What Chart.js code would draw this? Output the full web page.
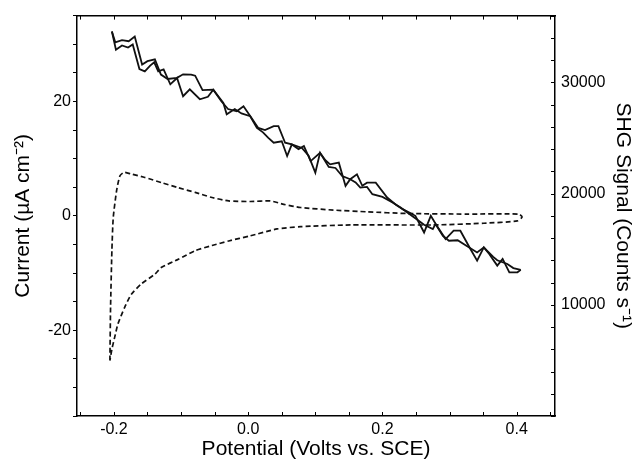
<!DOCTYPE html>
<html lang="en">
<head>
<meta charset="UTF-8">
<title>Current and SHG signal vs potential</title>
<script src="https://cdn.jsdelivr.net/npm/chart.js@4.4.1/dist/chart.umd.min.js"></script>
<style>
  body { margin: 0; background: #fff; }
  canvas { display: block; }
</style>
</head>
<body>
<canvas id="chart" width="636" height="465"></canvas>
<script>
// cyclic voltammogram (left axis), one closed loop starting at -0.2 V
const cvPotential = [-0.206, -0.205, -0.203, -0.201, -0.196, -0.191, -0.185, -0.174, -0.154, -0.129,
  -0.104, -0.079, -0.054, -0.029, 0.003, 0.033, 0.053, 0.078, 0.127, 0.177, 0.237, 0.326, 0.403, 0.408,
  0.401, 0.351, 0.276, 0.152, 0.078, 0.043, 0.003, -0.029, -0.054, -0.079, -0.104, -0.129, -0.139,
  -0.159, -0.174, -0.184, -0.194, -0.199, -0.203, -0.206];
const cvCurrent = [-25.3, -16, -6, -0.3, 4.4, 7.0, 7.6, 7.3, 6.7, 5.8,
  4.9, 4.1, 3.2, 2.6, 2.5, 2.6, 2.0, 1.45, 1.0, 0.7, 0.4, 0.3, 0.3, -0.2,
  -0.9, -1.3, -1.6, -1.6, -1.9, -2.3, -3.5, -4.4, -5.2, -6.1, -7.6, -9.0, -10.2,
  -11.9, -13.7, -16.0, -18.9, -21.3, -23.3, -25.3];

// SHG signal (right axis), two scans
const shgPotentialA = [-0.203, -0.198, -0.188, -0.178, -0.169, -0.158, -0.150, -0.139, -0.130, -0.120,
  -0.106, -0.097, -0.085, -0.079, -0.068, -0.052, -0.040, -0.030, -0.017, -0.007, 0.005, 0.015, 0.025,
  0.038, 0.045, 0.055, 0.065, 0.075, 0.083, 0.093, 0.107, 0.115, 0.122, 0.135, 0.145, 0.152, 0.162,
  0.170, 0.177, 0.190, 0.207, 0.220, 0.230, 0.240, 0.249, 0.262, 0.272, 0.280, 0.294, 0.306, 0.316,
  0.331, 0.341, 0.351, 0.359, 0.371, 0.379, 0.389, 0.401, 0.406];
const shgSignalA = [34570, 33600, 33800, 33700, 34120, 31600, 31900, 32060, 30700, 30300,
  30400, 30720, 30700, 30600, 29300, 29340, 28300, 27600, 27400, 27850, 26800, 25900, 25700,
  26060, 26060, 24570, 24420, 24000, 24270, 22920, 23670, 23000, 22630, 22780, 20690, 21290, 21730,
  20700, 20980, 20980, 19640, 19000, 18600, 18300, 18000, 16500, 18000, 17200, 15910, 16660, 16660,
  15020, 13970, 15160, 14570, 13520, 14120, 12920, 12920, 13140];

const shgPotentialB = [-0.203, -0.197, -0.188, -0.179, -0.172, -0.162, -0.154, -0.146, -0.140, -0.134,
  -0.126, -0.116, -0.106, -0.097, -0.087, -0.072, -0.060, -0.052, -0.037, -0.032, -0.020, -0.010, 0.003,
  0.013, 0.022, 0.030, 0.038, 0.050, 0.058, 0.065, 0.080, 0.090, 0.100, 0.107, 0.120, 0.130, 0.140,
  0.152, 0.160, 0.167, 0.177, 0.185, 0.200, 0.215, 0.227, 0.237, 0.254, 0.262, 0.275, 0.279, 0.290,
  0.299, 0.312, 0.325, 0.341, 0.351, 0.365, 0.371, 0.386, 0.395, 0.406];
const shgSignalB = [34570, 32930, 33310, 33130, 33400, 31200, 30980, 31500, 31800, 30980,
  31160, 29820, 30390, 28750, 29370, 28480, 28700, 29340, 28150, 27130, 27600, 27200, 26950,
  25900, 25500, 25010, 24570, 24700, 23370, 24420, 24100, 23400, 21880, 23670, 22400, 22300, 21580,
  21290, 21000, 20530, 20600, 19940, 19700, 19200, 18740, 18290, 17550, 17200, 16800, 17250, 16200,
  15760, 15800, 15300, 14700, 15160, 14300, 14000, 13670, 13300, 13140];

// axes
const xTicks = [-0.25, -0.2, -0.15, -0.1, -0.05, 0, 0.05, 0.1, 0.15, 0.2, 0.25, 0.3, 0.35, 0.4, 0.45];
const xMajor = [-0.2, 0, 0.2, 0.4];
const xMajorLabels = ['-0.2', '0.0', '0.2', '0.4'];
const yTicks = [-35, -30, -25, -20, -15, -10, -5, 0, 5, 10, 15, 20, 25, 30, 35];
const yMajor = [-20, 0, 20];
const y2Ticks = [0, 2000, 4000, 6000, 8000, 10000, 12000, 14000, 16000, 18000, 20000, 22000, 24000,
  26000, 28000, 30000, 32000, 34000, 36000];
const y2Major = [10000, 20000, 30000];

const pts = (xs, ys) => xs.map((x, i) => ({ x: x, y: ys[i] }));
const near = (list, v) => list.findIndex(m => Math.abs(m - v) < 1e-6);
const setTicks = list => scale => { scale.ticks = list.map(v => ({ value: v })); };

Chart.defaults.font.family = '"Liberation Sans", Arial, sans-serif';
Chart.defaults.color = '#000';

// small tick marks pointing into the plot (bottom, top and right sides)
const inwardTicks = {
  id: 'inwardTicks',
  afterDatasetsDraw(chart) {
    const { ctx, chartArea: a, scales } = chart;
    ctx.save();
    ctx.strokeStyle = '#000';
    ctx.lineWidth = 1;
    ctx.beginPath();
    scales.x.ticks.forEach(t => {
      const px = Math.round(scales.x.getPixelForValue(t.value)) + 0.5;
      ctx.moveTo(px, a.bottom); ctx.lineTo(px, a.bottom - 4);
      ctx.moveTo(px, a.top); ctx.lineTo(px, a.top + 4);
    });
    scales.y2.ticks.forEach(t => {
      const py = Math.round(scales.y2.getPixelForValue(t.value)) + 0.5;
      ctx.moveTo(a.right, py); ctx.lineTo(a.right - 4, py);
    });
    ctx.stroke();
    ctx.restore();
  }
};

new Chart(document.getElementById('chart'), {
  type: 'scatter',
  data: {
    datasets: [
      { data: pts(shgPotentialA, shgSignalA), yAxisID: 'y2', showLine: true, pointRadius: 0,
        borderColor: '#111', borderWidth: 1.8, tension: 0 },
      { data: pts(shgPotentialB, shgSignalB), yAxisID: 'y2', showLine: true, pointRadius: 0,
        borderColor: '#111', borderWidth: 1.8, tension: 0 },
      { data: pts(cvPotential, cvCurrent), yAxisID: 'y', showLine: true, pointRadius: 0,
        borderColor: '#111', borderWidth: 1.7, borderDash: [5, 3], tension: 0.2 }
    ]
  },
  options: {
    responsive: false,
    animation: false,
    layout: { padding: 0 },
    plugins: { legend: { display: false }, tooltip: { enabled: false } },
    scales: {
      x: {
        type: 'linear', position: 'bottom', min: -0.255, max: 0.457,
        afterBuildTicks: setTicks(xTicks),
        afterFit: s => { s.height = 49; },
        ticks: { font: { size: 16 }, padding: 4, maxRotation: 0, autoSkip: false,
          callback: v => { const i = near(xMajor, v); return i >= 0 ? xMajorLabels[i] : ''; } },
        grid: { drawOnChartArea: false, drawTicks: false },
        border: { display: true, color: '#000', width: 1.5 },
        title: { display: true, text: 'Potential (Volts vs. SCE)', font: { size: 21 },
          padding: { top: 0, bottom: 3 } }
      },
      x2: {
        type: 'linear', position: 'top', min: -0.255, max: 0.457,
        afterFit: s => { s.height = 14; },
        ticks: { display: false },
        grid: { drawOnChartArea: false, drawTicks: false },
        border: { display: true, color: '#000', width: 1.5 }
      },
      y: {
        type: 'linear', position: 'left', min: -35, max: 35,
        afterBuildTicks: setTicks(yTicks),
        afterFit: s => { s.width = 77; },
        ticks: { font: { size: 16 }, padding: 2, autoSkip: false,
          callback: v => near(yMajor, v) >= 0 ? String(v) : '' },
        grid: { drawOnChartArea: false, drawTicks: true, tickLength: 4, color: '#000', tickColor: '#000' },
        border: { display: true, color: '#000', width: 1.5 },
        title: { display: true, text: 'Current (\u00b5A cm\u207b\u00b2)', font: { size: 21 },
          padding: { top: 11, bottom: 0 } }
      },
      y2: {
        type: 'linear', position: 'right', min: 0, max: 36000,
        afterBuildTicks: setTicks(y2Ticks),
        afterFit: s => { s.width = 81; },
        ticks: { font: { size: 16 }, padding: 6, autoSkip: false,
          callback: v => near(y2Major, v) >= 0 ? String(v) : '' },
        grid: { drawOnChartArea: false, drawTicks: false },
        border: { display: true, color: '#000', width: 1.5 },
        title: { display: true, text: 'SHG Signal (Counts s\u207b\u00b9)', font: { size: 21 },
          padding: { top: 1, bottom: 0 } }
      }
    }
  },
  plugins: [inwardTicks]
});
</script>
</body>
</html>
